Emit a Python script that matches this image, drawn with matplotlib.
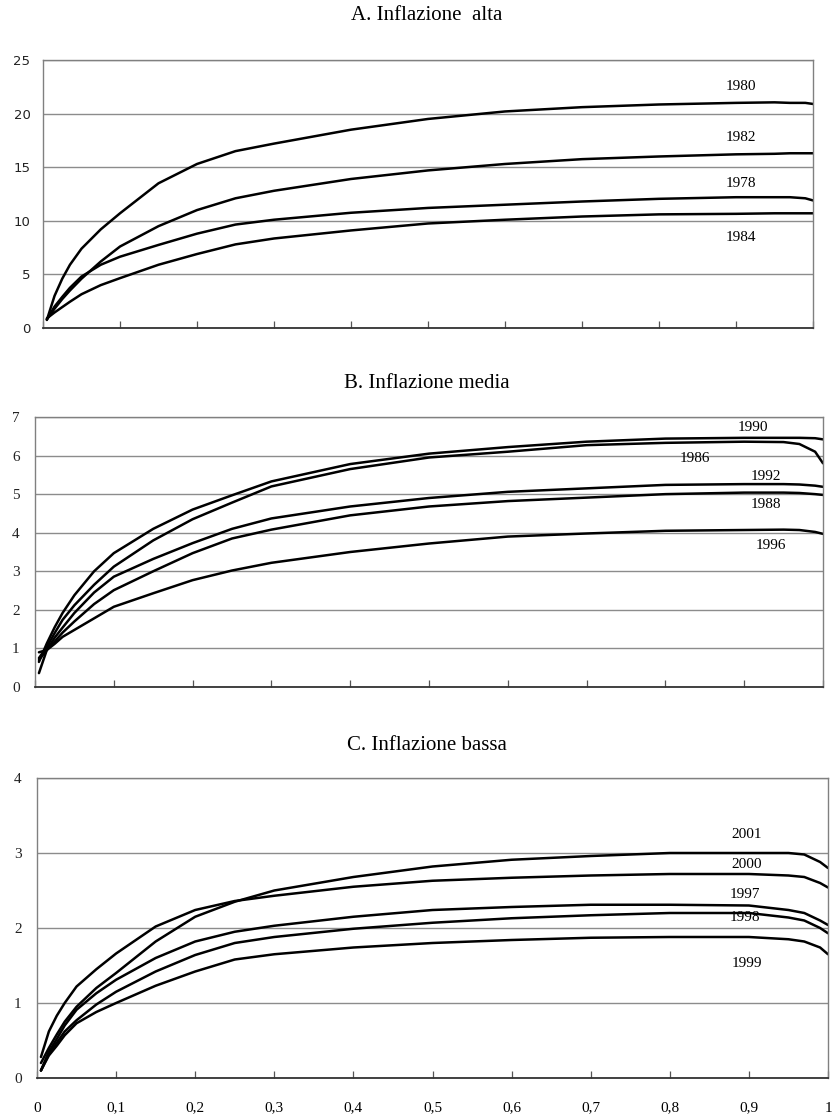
import matplotlib
matplotlib.use("Agg")
import matplotlib.pyplot as plt

# ---- dati -------------------------------------------------------------------
X = [0.005, 0.015, 0.025, 0.035, 0.05, 0.075, 0.1, 0.15, 0.2, 0.25, 0.3,
     0.4, 0.5, 0.6, 0.7, 0.8, 0.9, 0.95, 0.97, 0.99, 1.0]

# A. Inflazione alta
A_1980 = [0.75, 3.0, 4.6, 5.9, 7.4, 9.2, 10.7, 13.5, 15.3, 16.5, 17.2,
          18.5, 19.5, 20.2, 20.6, 20.85, 21.0, 21.05, 21.0, 21.0, 20.9]
A_1982 = [0.8, 1.8, 2.7, 3.5, 4.6, 6.2, 7.6, 9.5, 11.0, 12.1, 12.8,
          13.9, 14.7, 15.3, 15.75, 16.0, 16.2, 16.25, 16.3, 16.3, 16.3]
A_1978 = [0.8, 2.0, 2.9, 3.75, 4.8, 5.9, 6.65, 7.75, 8.8, 9.65, 10.1,
          10.75, 11.2, 11.5, 11.8, 12.05, 12.2, 12.2, 12.2, 12.1, 11.9]
A_1984 = [0.9, 1.45, 1.95, 2.45, 3.15, 4.0, 4.65, 5.9, 6.9, 7.8, 8.35,
          9.1, 9.75, 10.1, 10.4, 10.6, 10.65, 10.7, 10.7, 10.7, 10.7]

# B. Inflazione media
B_1990 = [0.65, 1.13, 1.55, 1.92, 2.38, 3.0, 3.47, 4.1, 4.6, 4.97, 5.33,
          5.78, 6.05, 6.22, 6.36, 6.44, 6.46, 6.46, 6.46, 6.45, 6.42]
B_1986 = [0.75, 1.04, 1.4, 1.74, 2.12, 2.65, 3.12, 3.8, 4.35, 4.78, 5.2,
          5.65, 5.95, 6.1, 6.27, 6.33, 6.36, 6.35, 6.3, 6.1, 5.8]
B_1992 = [0.9, 0.96, 1.28, 1.54, 1.92, 2.45, 2.86, 3.32, 3.73, 4.1, 4.37,
          4.68, 4.9, 5.06, 5.15, 5.24, 5.26, 5.26, 5.25, 5.22, 5.19]
B_1988 = [0.7, 0.96, 1.18, 1.41, 1.7, 2.15, 2.51, 3.0, 3.47, 3.85, 4.08,
          4.45, 4.68, 4.82, 4.91, 5.0, 5.04, 5.04, 5.03, 5.0, 4.98]
B_1996 = [0.36, 0.96, 1.12, 1.3, 1.48, 1.78, 2.08, 2.43, 2.77, 3.02, 3.22,
          3.5, 3.72, 3.9, 3.98, 4.05, 4.07, 4.08, 4.07, 4.02, 3.97]

# C. Inflazione bassa
C_2001 = [0.2, 0.4, 0.58, 0.75, 0.95, 1.2, 1.4, 1.82, 2.15, 2.35, 2.5,
          2.68, 2.82, 2.91, 2.96, 3.0, 3.0, 3.0, 2.98, 2.88, 2.8]
C_2000 = [0.28, 0.62, 0.83, 1.0, 1.22, 1.45, 1.66, 2.02, 2.24, 2.36, 2.43,
          2.55, 2.63, 2.67, 2.7, 2.72, 2.72, 2.7, 2.68, 2.6, 2.54]
C_1997 = [0.1, 0.35, 0.52, 0.7, 0.91, 1.13, 1.31, 1.6, 1.82, 1.95, 2.03,
          2.15, 2.24, 2.28, 2.31, 2.31, 2.3, 2.24, 2.2, 2.1, 2.04]
C_1998 = [0.1, 0.32, 0.47, 0.62, 0.77, 0.98, 1.15, 1.42, 1.64, 1.8, 1.88,
          1.99, 2.07, 2.13, 2.17, 2.2, 2.2, 2.14, 2.1, 2.0, 1.93]
C_1999 = [0.1, 0.3, 0.43, 0.57, 0.73, 0.88, 1.0, 1.23, 1.42, 1.58, 1.65,
          1.74, 1.8, 1.84, 1.87, 1.88, 1.88, 1.85, 1.82, 1.74, 1.65]

# etichette degli anni (x, y in coordinate dati)
ETICH_A = [("1980", 0.906, 22.5), ("1982", 0.906, 17.8),
           ("1978", 0.906, 13.5), ("1984", 0.906, 8.4)]
ETICH_B = [("1990", 0.911, 6.73), ("1986", 0.837, 5.93), ("1992", 0.927, 5.45),
           ("1988", 0.927, 4.74), ("1996", 0.934, 3.66)]
ETICH_C = [("2001", 0.897, 3.24), ("2000", 0.897, 2.85), ("1997", 0.895, 2.45),
           ("1998", 0.895, 2.14), ("1999", 0.897, 1.53)]

X_TICKS = [0, 0.1, 0.2, 0.3, 0.4, 0.5, 0.6, 0.7, 0.8, 0.9, 1.0]
X_TICKLABELS = ["0", "0,1", "0,2", "0,3", "0,4", "0,5", "0,6", "0,7", "0,8",
                "0,9", "1"]

SERIF = "Liberation Serif"
W, H = 833, 1117


def pannello(fig, rect, serie, etichette, ymax, ystep, titolo, titolo_y,
             font_y, size_y, pad_y, mostra_x):
    ax = fig.add_axes(rect)
    for ys in serie:
        ax.plot(X, ys, color="black", lw=1.8, solid_capstyle="round",
                solid_joinstyle="round")
    for testo, xx, yy in etichette:
        ax.text(xx, yy, testo, family=SERIF, fontsize=11,
                ha="center", va="center")
    ax.set_xlim(0, 1)
    ax.set_ylim(0, ymax)
    ax.set_yticks(range(0, ymax + 1, ystep))
    ax.yaxis.grid(True, color="#8c8c8c", lw=1.0)
    ax.set_axisbelow(True)
    ax.tick_params(axis="y", length=0, pad=pad_y, labelsize=size_y,
                   labelcolor="#222222")
    for lab in ax.get_yticklabels():
        lab.set_family(font_y)
    ax.set_xticks(X_TICKS)
    ax.tick_params(axis="x", direction="in", length=5, width=0.9,
                   color="#555555", pad=17)
    if mostra_x:
        ax.set_xticklabels(X_TICKLABELS, family=SERIF, fontsize=11)
    else:
        ax.set_xticklabels([])
    for lato in ["top", "right", "left"]:
        ax.spines[lato].set_color("#808080")
        ax.spines[lato].set_linewidth(1.0)
    ax.spines["bottom"].set_color("#333333")
    ax.spines["bottom"].set_linewidth(1.3)
    fig.text(0.512, titolo_y, titolo, family=SERIF, fontsize=15,
             ha="center", va="center")
    return ax


def rettangolo(sx, dx, alto, basso):
    return [sx / W, 1 - basso / H, (dx - sx) / W, (basso - alto) / H]


fig = plt.figure(figsize=(W / 100, H / 100), dpi=100)
fig.patch.set_facecolor("white")

pannello(fig, rettangolo(43, 813, 60, 328),
         [A_1980, A_1982, A_1978, A_1984], ETICH_A, 25, 5,
         "A. Inflazione  alta", 1 - 16 / H, "DejaVu Sans", 9.5, 9, False)
pannello(fig, rettangolo(35, 823, 417, 687),
         [B_1990, B_1986, B_1992, B_1988, B_1996], ETICH_B, 7, 1,
         "B. Inflazione media", 1 - 383 / H, SERIF, 11, 11, False)
pannello(fig, rettangolo(37, 828, 778, 1078),
         [C_2001, C_2000, C_1997, C_1998, C_1999], ETICH_C, 4, 1,
         "C. Inflazione bassa", 1 - 745 / H, SERIF, 11, 11, True)

fig.savefig("out.png", dpi=100)
